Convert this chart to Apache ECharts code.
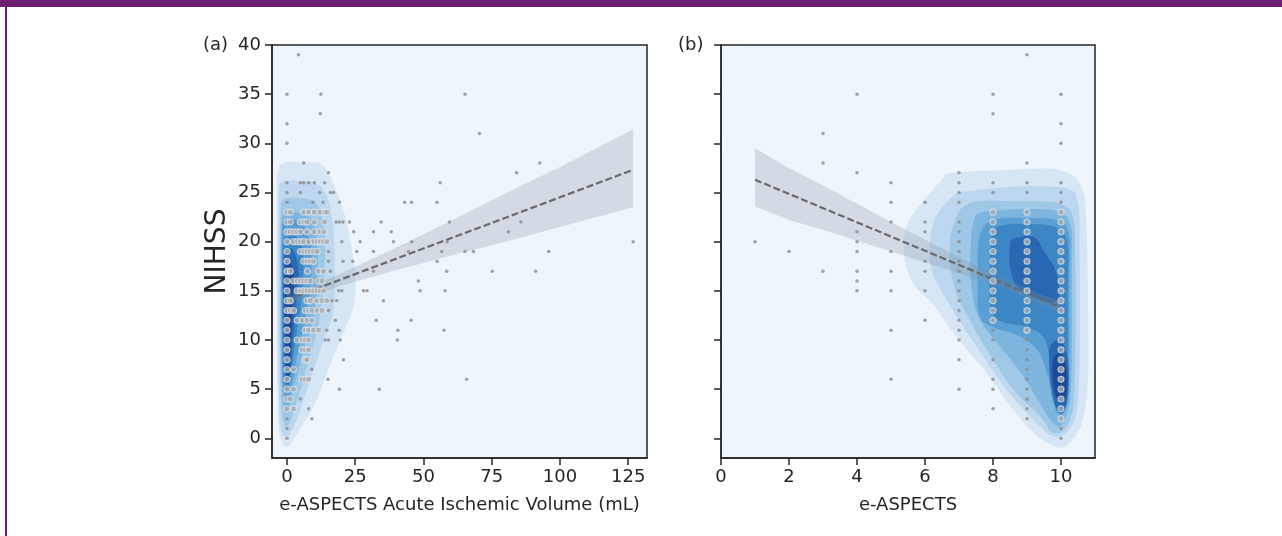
<!DOCTYPE html>
<html>
<head>
<meta charset="utf-8">
<script src="https://cdn.jsdelivr.net/npm/echarts@6/dist/echarts.min.js"></script>
<style>
html,body{margin:0;padding:0;background:#fff;}
#main{width:1282px;height:536px;}
</style>
</head>
<body>
<div id="main"></div>
<script>
// tick labels
var ticksA = [0, 25, 50, 75, 100, 125];
var ticksB = [0, 2, 4, 6, 8, 10];
var ticksY = [0, 5, 10, 15, 20, 25, 30, 35, 40];

// (a) volume vs NIHSS, points inside the dense blob
var aDense = [
  [0,23],[1.2,23],[6.1,23],[7.9,23],[10,23],[12,23],[13.8,23],[14.6,23],
  [0,22],[1.2,22],[4.9,22],[6.1,22],[7.3,22],[10,22],[13.8,22],
  [0,21],[1.2,21],[2.4,21],[3.7,21],[4.9,21],[7.3,21],[10,21],[12,21],[13.5,21],
  [0,20],[2.4,20],[3.7,20],[4.9,20],[6.1,20],[7.9,20],[9.8,20],[11,20],[12.2,20],[13.4,20],[14.6,20],
  [0,19],[4.9,19],[6.1,19],[7.3,19],[8.5,19],[9.7,19],[11,19],
  [0,18],[6.1,18],[7.3,18],[8.5,18],[9.7,18],
  [0,17],[1.2,17],[7.5,17],[11.5,17],[13.4,17],
  [0,16],[2.4,16],[3.7,16],[4.9,16],[6.1,16],[7.3,16],[8.5,16],[11.6,16],[12.8,16],
  [0,15],[3.7,15],[4.9,15],[6.1,15],[7.3,15],[8.5,15],[9.7,15],[11,15],[12.2,15],[13.4,15],
  [0,14],[1.2,14],[7.3,14],[8.5,14],[11,14],[12.8,14],[14.6,14],
  [0,13],[1.2,13],[2.4,13],[6.7,13],[7.9,13],[9.1,13],[11,13],[12.8,13],
  [0,12],[3.7,12],[5.5,12],[7.3,12],[9.1,12],
  [0,11],[6.7,11],[7.9,11],[9.7,11],[11.6,11],
  [0,10],[3.7,10],[5.5,10],[6.7,10],[7.9,10],
  [0,9],[5.5,9],[6.7,9],[7.9,9],
  [0,8],[6.7,8],[7.3,8],
  [0,7],[2.4,7],
  [0,6],[5.5,6],[6.7,6],[7.9,6],
  [0,5],[2.4,5],[0,4],[1.2,4],[0,3],[2.4,3]
];
// (a) scattered points
var aSparse = [
  [4.2,39],[0,35],[12.4,35],[12.2,33],[0,32],[0,30],[6.1,28],[15.2,27],
  [0,26],[4.9,26],[6.1,26],[7.9,26],[10,26],[13.8,26],[56.1,26],
  [0,25],[4.9,25],[12,25],[15.9,25],[17.1,25],
  [0,24],[9.5,24],[13.2,24],[19.2,24],[43.1,24],[45.6,24],[54.9,24],
  [18,22],[19.2,22],[20.5,22],[22.9,22],[34.5,22],[59.5,22],[85.7,22],
  [24.4,21],[31.7,21],[38.2,21],[81.1,21],
  [20.1,20],[26.8,20],[39,20],[45.7,20],[58.7,20],[126.8,20],
  [15.2,19],[25.6,19],[31.7,19],[44.5,19],[56.7,19],[65.2,19],[68.3,19],[95.9,19],
  [15.2,18],[20.5,18],[24.1,18],[55,18],
  [15.9,17],[31.7,17],[58.5,17],[75.2,17],[91.1,17],
  [48.1,16],
  [18.9,15],[20.1,15],[28,15],[29.3,15],[48.8,15],[57.9,15],
  [16.4,14],[18.2,14],[35.3,14],
  [15.2,13],
  [17.7,12],[32.7,12],[45.5,12],
  [14.6,11],[19.1,11],[40.6,11],[57.5,11],
  [14,10],[15.2,10],[19.5,10],[40.4,10],
  [20.7,8],[9.1,7],[15,6],[65.8,6],[19.2,5],[33.8,5],[4.9,4],[7.9,3],[9.1,2],
  [0,2],[0,1],[0,0],
  [65.2,35],[70.5,31],[84.1,27],[92.6,28]
];
// (a) fit line and confidence band
var aFitLine = [[0,14.1],[126.8,27.3]];
var aBandX  = [0, 10, 20, 40, 60, 80, 100, 126.8];
var aBandLo = [13.5, 14.6, 15.55, 17.1, 18.6, 20.0, 21.5, 23.5];
var aBandHi = [14.7, 15.6, 16.8, 19.4, 22.1, 24.9, 27.6, 31.4];

// (b) e-ASPECTS vs NIHSS, columns of bright (stacked) points
var bDenseCols = [
  [8, [12,13,14,15,16,17,18,19,20,21,22,23]],
  [9, [11,12,13,14,15,16,17,18,19,20,21,22,23]],
  [10,[2,3,4,5,6,7,8,9,10,11,12,13,14,15,16,17,18,19,20,21,22,23]]
];
var bSparseCols = [
  [1, [20]],
  [2, [19]],
  [3, [31,28,17]],
  [4, [35,27,21,20,19,17,16,15]],
  [5, [26,24,22,19,17,15,11,6]],
  [6, [24,22,21,18,17,15,12]],
  [7, [27,26,25,24,22,21,20,19,18,17,16,15,14,13,12,11,10,8,5]],
  [8, [35,33,26,25,11,10,8,6,5,3]],
  [9, [39,28,26,25,10,9,8,7,6,5,4,3,2]],
  [10,[35,32,30,26,25,24,1,0]]
];
var bFitLine = [[1,26.3],[10,13.3]];
var bBandX  = [1, 2, 3, 4, 5, 6, 7, 8, 9, 10];
var bBandLo = [23.6, 22.2, 21.2, 20.1, 19.0, 17.9, 16.8, 15.65, 14.3, 12.66];
var bBandHi = [29.5, 27.5, 25.7, 23.85, 22.0, 20.2, 18.45, 16.73, 15.2, 13.94];

// density contour fills (level, outline)
var levelColors = ['#eef5fb','#d7e6f4','#bdd7ee','#9ec8e6','#7db5de','#5a9fd3','#3c86c5','#2868b2','#1c4a94'];
var contourA = [
  [1, [[-3.7,25],[-3,27.5],[0,28.1],[8,28.1],[13,27.8],[17,25.9],[21.3,22.6],[23.5,19.5],[25,16.5],[24.4,13.4],[19.5,10],[14.6,6.6],[9.7,3.2],[3.7,0.5],[0,-0.9],[-2.8,0.5],[-3.5,5],[-3.8,15]]],
  [2, [[-3,24.5],[-2,26],[3,26.2],[10,26],[14,25],[16.5,22.5],[17.5,18],[17,13],[13.4,10],[8.5,6],[3.7,2],[0,0.2],[-2.5,1.5],[-3.1,8],[-3.2,17]]],
  [3, [[-2.4,23],[-1,24.3],[6,24.4],[11,23.8],[13.8,21],[13.6,16],[11.6,11.7],[7.3,7.3],[3,3.2],[0,1.2],[-2,3],[-2.6,10],[-2.6,17]]],
  [4, [[-2,21.8],[-0.5,22.9],[5,22.9],[9.5,22],[11.3,19],[10.5,14],[8.5,11],[6.1,9],[2.4,5],[0,2.6],[-1.7,4.5],[-2.2,10],[-2.2,16]]],
  [5, [[-1.8,21],[0,22.1],[5,22],[8.5,20],[8.8,16],[6.5,12],[3.7,8.4],[1.5,5],[0,3.9],[-1.5,5.5],[-1.9,11]]],
  [6, [[-1.5,19.5],[0,20.5],[4,20.4],[6,18.5],[5.2,14],[3.7,11],[1.8,7.5],[0.2,4.9],[-1.2,6.5],[-1.6,12]]],
  [7, [[-1.2,18],[0.3,19.2],[2.5,19],[4.2,17],[3.5,14],[2.2,10],[1.2,6.5],[0.2,5.5],[-0.8,7],[-1.3,12]]],
  [8, [[-0.6,17.5],[1,18],[2.5,16.5],[2,13],[1.3,9],[0.8,6.5],[0,6],[-0.6,8],[-0.8,13]]]
];
var contourB = [
  [1, [[6.8,27.0],[8.5,27.3],[9.95,27.3],[10.6,25.6],[10.75,21.5],[10.8,13],[10.8,6.3],[10.65,2],[10.35,-0.1],[9.95,-0.95],[9.3,0.2],[8.6,2.9],[7.8,6.7],[7.0,10],[6.2,13.8],[5.7,15.5],[5.4,18.2],[5.45,21.5],[5.9,23.9],[6.5,26.3]]],
  [2, [[7.2,25.1],[8.8,25.6],[10.15,25.4],[10.5,23.9],[10.55,18.2],[10.55,8],[10.45,2.6],[10.15,0.6],[9.76,0.2],[9.27,1.6],[8.39,5],[7.5,9.4],[6.63,14.1],[6.19,17.2],[6.14,19.9],[6.33,22.6],[6.82,24.6]]],
  [3, [[7.3,23.9],[8.7,24.1],[9.9,23.9],[10.35,22.5],[10.42,18],[10.42,8],[10.35,3],[10.1,0.9],[9.75,0.6],[9.37,2.3],[8.69,4.6],[8.0,8.0],[7.41,11.4],[6.92,14.8],[6.73,18.2],[6.82,21.6]]],
  [4, [[7.7,23.0],[8.8,23.3],[9.9,23.1],[10.3,21.5],[10.32,17],[10.32,8],[10.25,3.5],[10.0,1.3],[9.7,1.8],[9.3,4.0],[8.8,6.8],[8.1,9.8],[7.55,12.5],[7.35,16],[7.35,20],[7.45,22.3]]],
  [5, [[8.0,22.2],[9.0,22.4],[9.95,22.1],[10.25,20.5],[10.25,16],[10.25,8],[10.2,3.8],[10.0,2.3],[9.78,3.5],[9.6,6.5],[9.3,9.0],[8.7,10.5],[8.0,11.3],[7.6,12.5],[7.55,16],[7.6,20.5]]],
  [6, [[8.1,21.5],[9.0,21.8],[9.9,21.4],[10.2,19.5],[10.2,15],[10.2,9],[10.15,4.8],[10.0,3.2],[9.8,4.2],[9.7,7.5],[9.5,10.2],[9.0,11.3],[8.3,11.8],[7.95,13],[7.9,17],[7.95,20]]],
  [7, [[8.6,20.3],[9.2,20.5],[9.5,19],[9.85,17],[9.95,14.5],[9.7,13.8],[9.2,14.4],[8.7,15.5],[8.5,17.5],[8.5,19.5]]],
  [7, [[9.7,9.5],[10.0,10],[10.2,8],[10.22,5],[10.1,2.8],[9.9,2.8],[9.72,5],[9.65,8]]],
  [8, [[9.8,8.3],[10.05,8.5],[10.18,6.5],[10.15,4.3],[10.0,3.6],[9.83,4.5],[9.75,6.5]]]
];

function flattenCols(cols) {
  var out = [];
  cols.forEach(function (c) {
    c[1].forEach(function (y) { out.push([c[0], y]); });
  });
  return out;
}
var bDense = flattenCols(bDenseCols);
var bSparse = flattenCols(bSparseCols);

var ink = '#262626';
var font = 'DejaVu Sans';

// closed smooth outline through pixel points (Catmull-Rom -> cubic Bezier)
function smoothPath(p) {
  var n = p.length, d = 'M' + p[0][0] + ' ' + p[0][1];
  for (var i = 0; i < n; i++) {
    var p0 = p[(i - 1 + n) % n], p1 = p[i], p2 = p[(i + 1) % n], p3 = p[(i + 2) % n];
    var c1x = p1[0] + (p2[0] - p0[0]) / 6, c1y = p1[1] + (p2[1] - p0[1]) / 6;
    var c2x = p2[0] - (p3[0] - p1[0]) / 6, c2y = p2[1] - (p3[1] - p1[1]) / 6;
    d += 'C' + c1x + ' ' + c1y + ' ' + c2x + ' ' + c2y + ' ' + p2[0] + ' ' + p2[1];
  }
  return d + 'Z';
}

function contourSeries(list, idx) {
  return {
    type: 'custom', xAxisIndex: idx, yAxisIndex: idx, z: 1, silent: true,
    data: list.map(function (c, i) { return [i]; }),
    renderItem: function (params, api) {
      var c = list[params.dataIndex];
      var pts = c[1].map(function (p) { return api.coord(p); });
      return { type: 'path', shape: { pathData: smoothPath(pts) }, style: { fill: levelColors[c[0]] } };
    }
  };
}
function bandSeries(bx, lo, hi, idx) {
  return {
    type: 'custom', xAxisIndex: idx, yAxisIndex: idx, z: 2, silent: true,
    data: [[0]],
    renderItem: function (params, api) {
      var pts = [];
      for (var i = 0; i < bx.length; i++) pts.push(api.coord([bx[i], hi[i]]));
      for (var j = bx.length - 1; j >= 0; j--) pts.push(api.coord([bx[j], lo[j]]));
      return { type: 'polygon', shape: { points: pts }, style: { fill: 'rgba(130,140,155,0.25)' } };
    }
  };
}
function fitSeries(data, idx) {
  return {
    type: 'line', xAxisIndex: idx, yAxisIndex: idx, z: 3, data: data,
    showSymbol: false, silent: true,
    lineStyle: { color: '#6a6a6a', width: 2.2, type: [7, 3] }
  };
}
function dotSeries(data, idx, dense) {
  return {
    type: 'scatter', xAxisIndex: idx, yAxisIndex: idx, z: 4, data: data, silent: true,
    symbolSize: dense ? 6 : 3.5,
    itemStyle: dense
      ? { color: '#a8abae', borderColor: 'rgba(230,236,242,0.8)', borderWidth: 1.2 }
      : { color: '#8c8c8c' }
  };
}
function xAxisOf(idx, min, max, ticks, name) {
  return {
    gridIndex: idx, type: 'value', min: min, max: max,
    axisLine: { show: true, onZero: false, lineStyle: { color: ink, width: 1.5 } },
    axisTick: { show: true, customValues: ticks, length: 7, lineStyle: { color: ink, width: 1.5 } },
    axisLabel: { customValues: ticks, fontSize: 18, color: ink, margin: 10, fontFamily: font },
    splitLine: { show: false },
    name: name, nameLocation: 'middle', nameGap: 38,
    nameTextStyle: { fontSize: 18, color: ink, fontFamily: font }
  };
}
function yAxisOf(idx, showLabels) {
  return {
    gridIndex: idx, type: 'value', min: -2, max: 40,
    axisLine: { show: true, onZero: false, lineStyle: { color: ink, width: 1.5 } },
    axisTick: { show: true, customValues: ticksY, length: 7, lineStyle: { color: ink, width: 1.5 } },
    axisLabel: { show: showLabels, customValues: ticksY, fontSize: 18, color: ink, margin: 11, fontFamily: font },
    splitLine: { show: false },
    name: showLabels ? 'NIHSS' : '', nameLocation: 'middle', nameRotate: 90, nameGap: 40,
    nameTextStyle: { fontSize: 28, color: ink, fontFamily: font }
  };
}

var chart = echarts.init(document.getElementById('main'));
var option = {
  animation: false,
  backgroundColor: '#ffffff',
  grid: [
    { left: 272, top: 45, width: 375, height: 413, show: true, backgroundColor: levelColors[0], borderColor: ink, borderWidth: 1.5 },
    { left: 721, top: 45, width: 374, height: 413, show: true, backgroundColor: levelColors[0], borderColor: ink, borderWidth: 1.5 }
  ],
  xAxis: [
    xAxisOf(0, -5.5, 131.9, ticksA, 'e-ASPECTS Acute Ischemic Volume (mL)'),
    xAxisOf(1, 0, 11, ticksB, 'e-ASPECTS')
  ],
  yAxis: [yAxisOf(0, true), yAxisOf(1, false)],
  graphic: [
    { type: 'rect', left: 0, top: 0, shape: { width: 1282, height: 7 }, style: { fill: '#6c1f6f' } },
    { type: 'rect', left: 5, top: 0, shape: { width: 2, height: 536 }, style: { fill: '#6c1f6f' } },
    { type: 'text', left: 203, top: 36, style: { text: '(a)', fontSize: 18, fill: ink, fontFamily: font } },
    { type: 'text', left: 678, top: 36, style: { text: '(b)', fontSize: 18, fill: ink, fontFamily: font } }
  ],
  series: [
    contourSeries(contourA, 0),
    bandSeries(aBandX, aBandLo, aBandHi, 0),
    fitSeries(aFitLine, 0),
    dotSeries(aSparse, 0, false),
    dotSeries(aDense, 0, true),
    contourSeries(contourB, 1),
    bandSeries(bBandX, bBandLo, bBandHi, 1),
    fitSeries(bFitLine, 1),
    dotSeries(bSparse, 1, false),
    dotSeries(bDense, 1, true)
  ]
};
chart.setOption(option);
</script>
</body>
</html>
